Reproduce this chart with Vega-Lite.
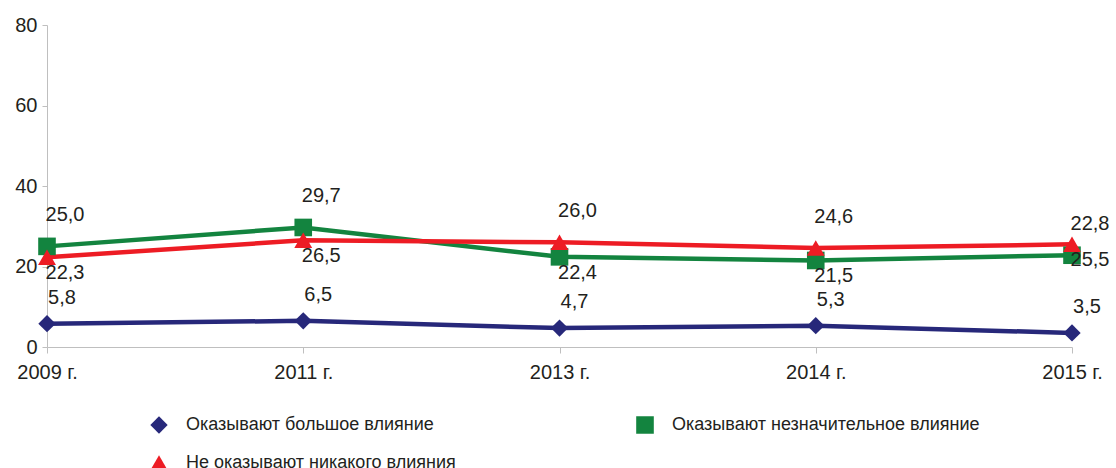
{
  "$schema": "https://vega.github.io/schema/vega-lite/v6.json",
  "width": 1025,
  "height": 322,
  "autosize": {"type": "none"},
  "padding": {"left": 47, "top": 25, "right": 44, "bottom": 121},
  "background": "white",
  "config": {
    "view": {"stroke": null},
    "font": "Liberation Sans",
    "locale": {"number": {"decimal": ",", "thousands": " ", "grouping": [3], "currency": ["", ""]}},
    "axis": {"domainColor": "#BFBFBF", "tickColor": "#BFBFBF", "labelColor": "#231F20", "labelFontSize": 20, "labelFont": "Liberation Sans", "grid": false, "title": null}
  },
  "data": {
    "values": [
      {"year": "2009 г.", "series": "Оказывают большое влияние", "value": 5.8, "side": "above"},
      {"year": "2011 г.", "series": "Оказывают большое влияние", "value": 6.5, "side": "above"},
      {"year": "2013 г.", "series": "Оказывают большое влияние", "value": 4.7, "side": "above"},
      {"year": "2014 г.", "series": "Оказывают большое влияние", "value": 5.3, "side": "above"},
      {"year": "2015 г.", "series": "Оказывают большое влияние", "value": 3.5, "side": "above"},
      {"year": "2009 г.", "series": "Оказывают незначительное влияние", "value": 25.0, "side": "above"},
      {"year": "2011 г.", "series": "Оказывают незначительное влияние", "value": 29.7, "side": "above"},
      {"year": "2013 г.", "series": "Оказывают незначительное влияние", "value": 22.4, "side": "below"},
      {"year": "2014 г.", "series": "Оказывают незначительное влияние", "value": 21.5, "side": "below"},
      {"year": "2015 г.", "series": "Оказывают незначительное влияние", "value": 22.8, "side": "above"},
      {"year": "2009 г.", "series": "Не оказывают никакого влияния", "value": 22.3, "side": "below"},
      {"year": "2011 г.", "series": "Не оказывают никакого влияния", "value": 26.5, "side": "below"},
      {"year": "2013 г.", "series": "Не оказывают никакого влияния", "value": 26.0, "side": "above"},
      {"year": "2014 г.", "series": "Не оказывают никакого влияния", "value": 24.6, "side": "above"},
      {"year": "2015 г.", "series": "Не оказывают никакого влияния", "value": 25.5, "side": "below"}
    ]
  },
  "encoding": {
    "x": {
      "field": "year", "type": "ordinal",
      "scale": {"type": "point", "padding": 0, "domain": ["2009 г.", "2011 г.", "2013 г.", "2014 г.", "2015 г."]},
      "axis": {"labelAngle": 0, "tickSize": 6, "labelPadding": 9, "domainWidth": 1}
    },
    "y": {
      "field": "value", "type": "quantitative",
      "scale": {"domain": [0, 80], "nice": false},
      "axis": {"values": [0, 20, 40, 60, 80], "tickSize": 5, "labelPadding": 5}
    },
    "color": {
      "field": "series", "type": "nominal",
      "scale": {"domain": ["Оказывают большое влияние", "Оказывают незначительное влияние", "Не оказывают никакого влияния"], "range": ["#27287A", "#13843F", "#ED1C24"]},
      "legend": {
        "title": null,
        "orient": "none",
        "legendX": 103,
        "legendY": 390,
        "direction": "horizontal",
        "columns": 2,
        "columnPadding": 180,
        "rowPadding": 18,
        "padding": 0,
        "symbolSize": 2500,
        "symbolStrokeWidth": 0,
        "symbolOpacity": 1,
        "clipHeight": 20,
        "labelFontSize": 18,
        "labelFont": "Liberation Sans",
        "labelColor": "#231F20",
        "labelOffset": 18,
        "labelLimit": 400
      }
    }
  },
  "layer": [
    {
      "mark": {"type": "line", "strokeWidth": 4.5},
      "encoding": {
        "detail": {"field": "series"}
      }
    },
    {
      "mark": {"type": "point", "filled": true, "opacity": 1, "strokeWidth": 0},
      "encoding": {
        "shape": {
          "field": "series", "type": "nominal",
          "scale": {"domain": ["Оказывают большое влияние", "Оказывают незначительное влияние", "Не оказывают никакого влияния"], "range": ["diamond", "square", "triangle-up"]},
          "legend": null
        },
        "size": {
          "field": "series", "type": "nominal",
          "scale": {"domain": ["Оказывают большое влияние", "Оказывают незначительное влияние", "Не оказывают никакого влияния"], "range": [300, 320, 400]},
          "legend": null
        }
      }
    },
    {
      "transform": [{"filter": "datum.series === 'Оказывают большое влияние'"}],
      "mark": {"type": "text", "dx": 15, "dy": -26, "fontSize": 20, "font": "Liberation Sans", "baseline": "middle"},
      "encoding": {"text": {"field": "value", "type": "quantitative", "format": ".1f"}, "color": {"value": "#231F20"}}
    },
    {
      "transform": [{"filter": "datum.side === 'above' && datum.series !== 'Оказывают большое влияние'"}],
      "mark": {"type": "text", "dx": 18, "dy": -31, "fontSize": 20, "font": "Liberation Sans", "baseline": "middle"},
      "encoding": {"text": {"field": "value", "type": "quantitative", "format": ".1f"}, "color": {"value": "#231F20"}}
    },
    {
      "transform": [{"filter": "datum.side === 'below'"}],
      "mark": {"type": "text", "dx": 18, "dy": 16, "fontSize": 20, "font": "Liberation Sans", "baseline": "middle"},
      "encoding": {"text": {"field": "value", "type": "quantitative", "format": ".1f"}, "color": {"value": "#231F20"}}
    }
  ]
}
